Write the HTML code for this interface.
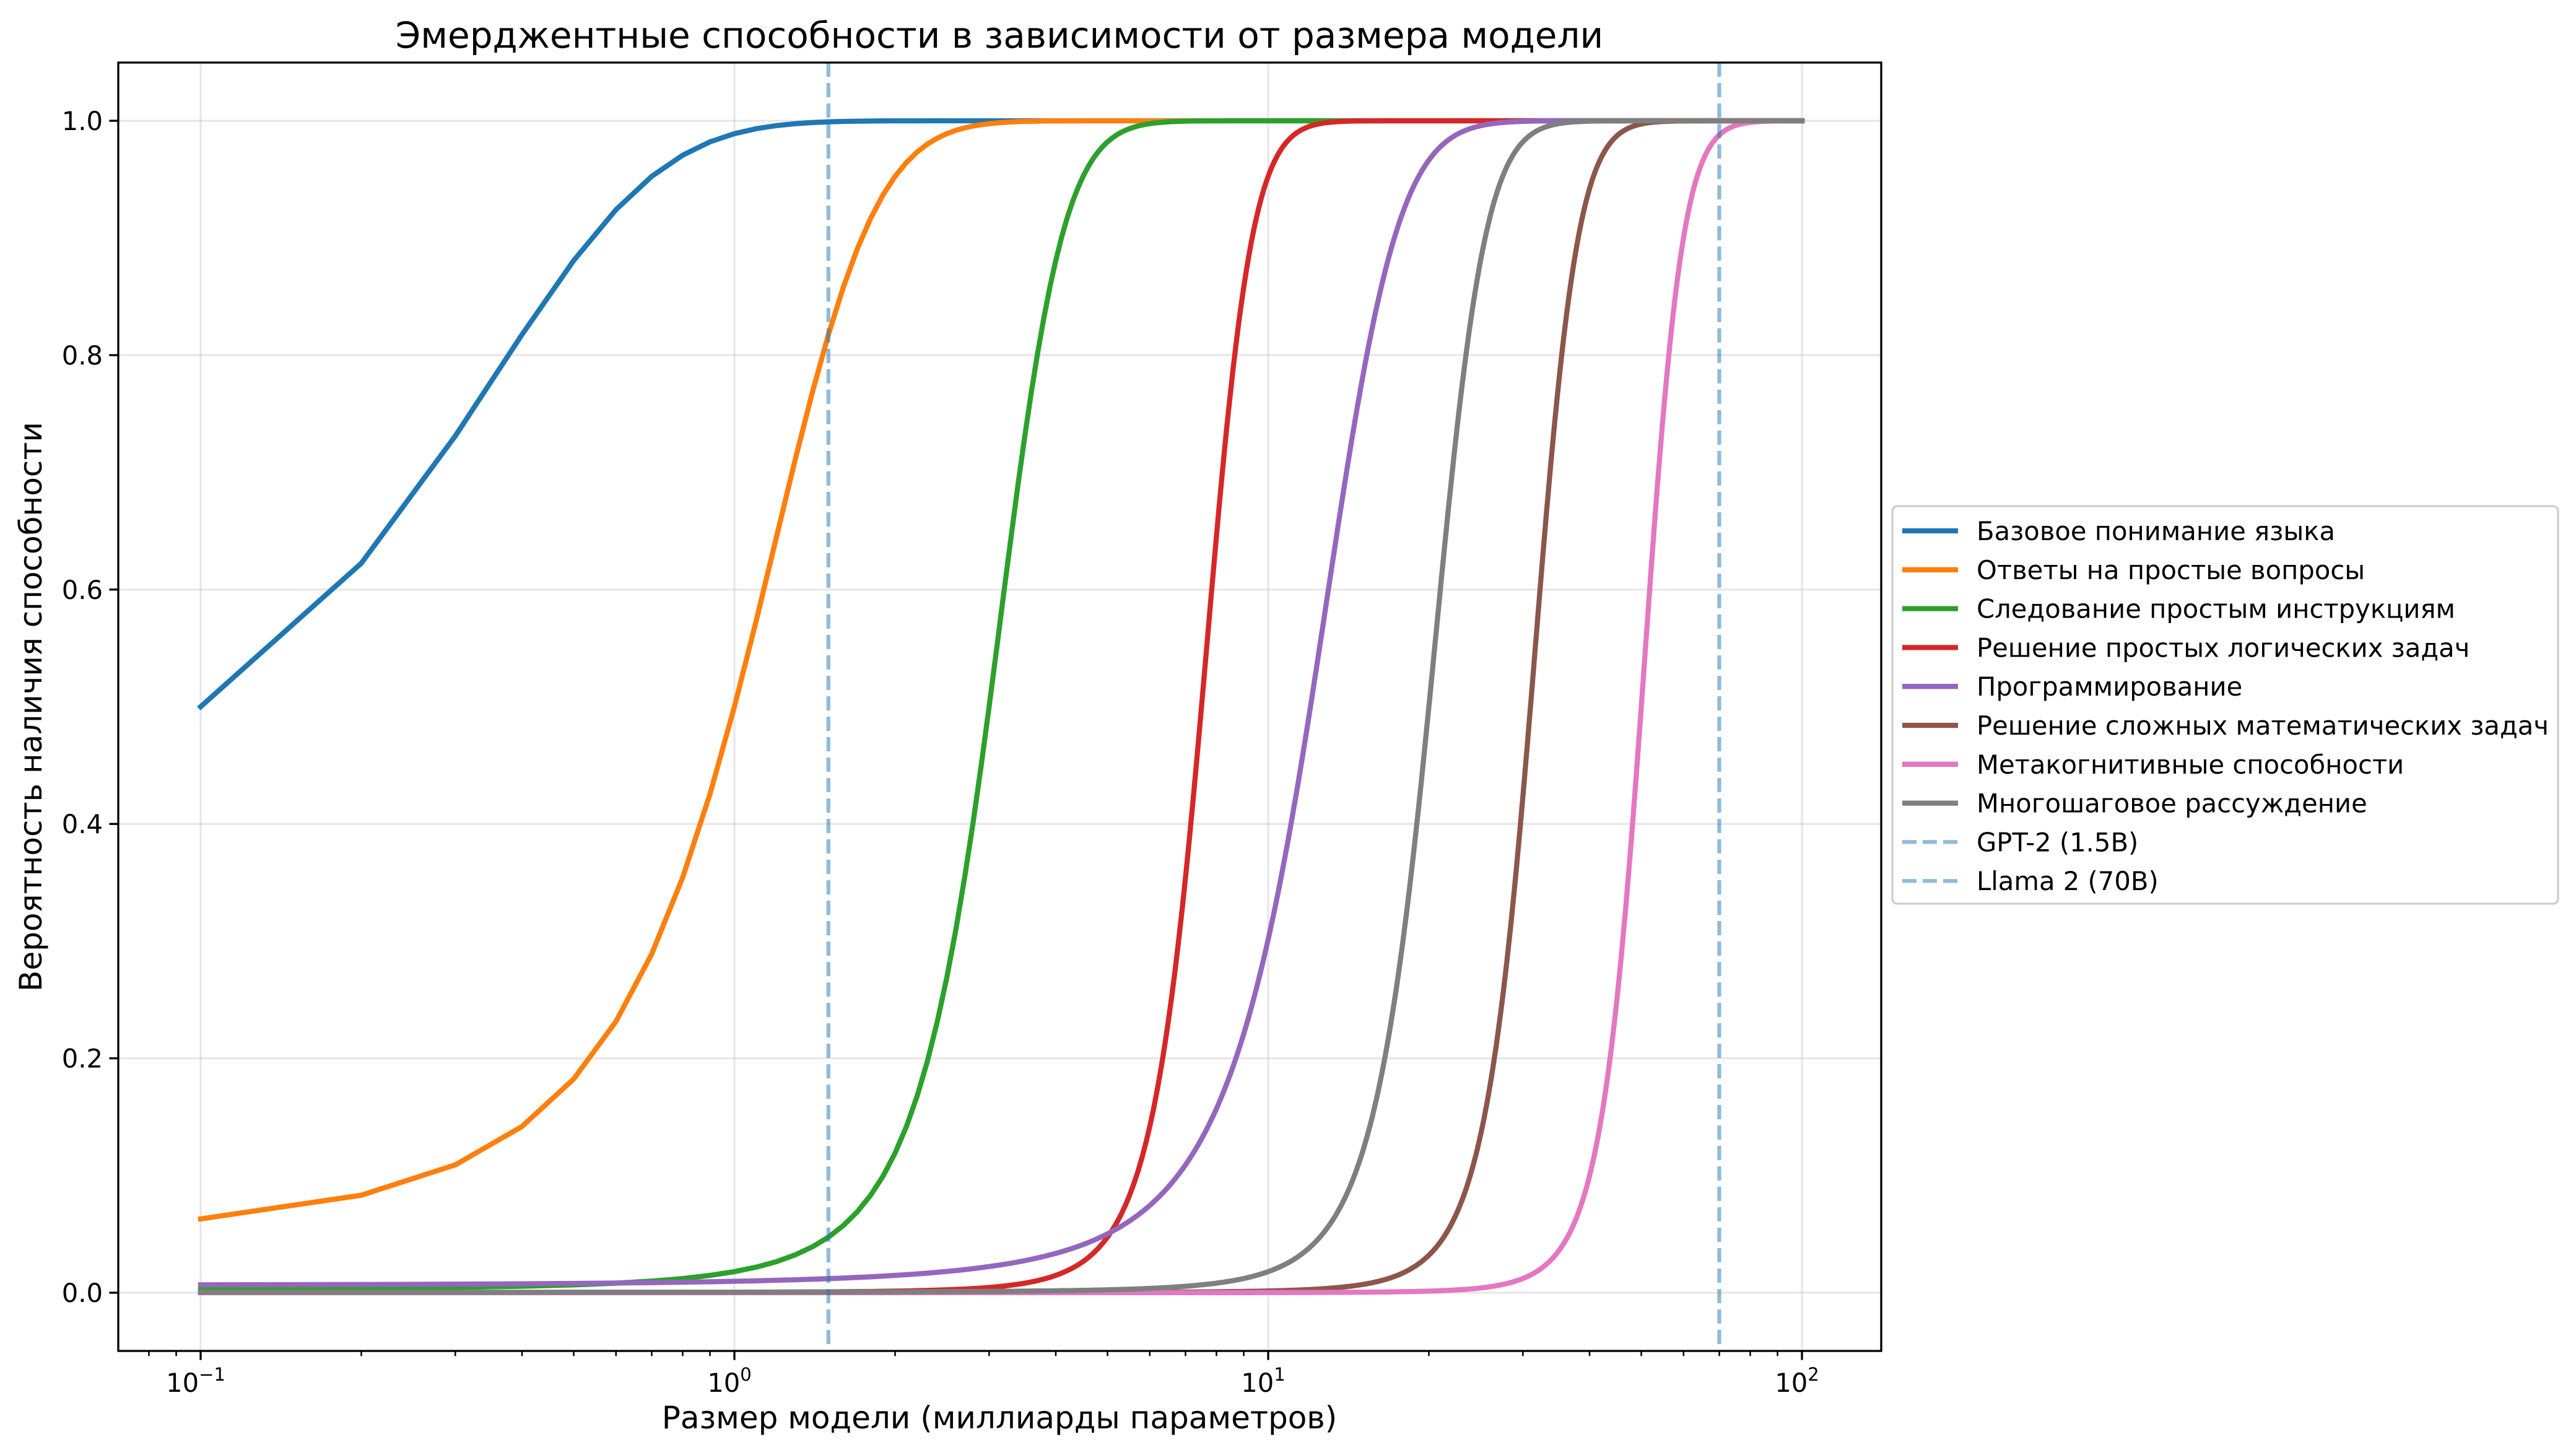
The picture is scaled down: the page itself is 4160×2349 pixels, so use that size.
<!DOCTYPE html>
<html><head><meta charset="utf-8">
<style>html,body{margin:0;padding:0;background:#fff;}svg{display:block;}</style>
</head><body>
<svg id="s" xmlns="http://www.w3.org/2000/svg" width="4160" height="2349" viewBox="0 0 4160 2349" font-family="'DejaVu Sans','Liberation Sans',sans-serif">
<rect width="4160" height="2349" fill="#fff"/>
<g id="grid" stroke="#b0b0b0" stroke-opacity="0.3" stroke-width="3.3"></g>
<g id="curves" fill="none" stroke-width="8.3" stroke-linejoin="round" stroke-linecap="square"></g>
<g id="vl" stroke="#1f77b4" stroke-opacity="0.5" stroke-width="6.25" stroke-dasharray="23,10"></g>
<rect x="191" y="101" width="2847" height="2080" fill="none" stroke="#000" stroke-width="3.3"/>
<g id="ticks" stroke="#000"></g>
<g id="labels" font-size="41.7" fill="#000"></g>
<text x="1614" y="77" font-size="58" text-anchor="middle">Эмерджентные способности в зависимости от размера модели</text>
<text x="1614" y="2306" font-size="50" text-anchor="middle">Размер модели (миллиарды параметров)</text>
<text transform="translate(67,1141) rotate(-90)" font-size="50" text-anchor="middle">Вероятность наличия способности</text>
<rect x="3056" y="817" width="1075" height="642" rx="8" fill="#fff" fill-opacity="0.8" stroke="#cccccc" stroke-width="3.3"/>
<g id="legend" font-size="41.7"></g>
</svg>
<script>
const X0=324,DEC=862,Y0=2087,YU=1892;
const xp=v=>X0+DEC*(Math.log10(v)+1), yp=v=>Y0-YU*v;
const ns="http://www.w3.org/2000/svg";
function el(p,t,a,txt){const e=document.createElementNS(ns,t);for(const k in a)e.setAttribute(k,a[k]);if(txt!==undefined)e.textContent=txt;p.appendChild(e);return e;}
const grid=document.getElementById('grid'),ticks=document.getElementById('ticks'),labels=document.getElementById('labels');
const L=191,R=3038,T=101,B=2181;
for(let i=0;i<=5;i++){const v=i*0.2,y=yp(v);
 el(grid,'line',{x1:L,x2:R,y1:y,y2:y});
 el(ticks,'line',{x1:L-14.6,x2:L,y1:y,y2:y,'stroke-width':3.3});
 el(labels,'text',{x:L-25,y:y+15,'text-anchor':'end'},v.toFixed(1));}
[-1,0,1,2].forEach(e=>{const x=xp(Math.pow(10,e));
 el(grid,'line',{x1:x,x2:x,y1:T,y2:B});
 el(ticks,'line',{x1:x,x2:x,y1:B,y2:B+14.6,'stroke-width':3.3});
 const t=el(labels,'text',{x:x-8,y:B+66,'text-anchor':'middle'});
 el(t,'tspan',{},'10');el(t,'tspan',{dy:-18,'font-size':29},e<0?'−1':String(e));});
for(let d=-2;d<=2;d++)for(let m=2;m<=9;m++){const v=m*Math.pow(10,d),x=xp(v);
 if(x>L&&x<R)el(ticks,'line',{x1:x,x2:x,y1:B,y2:B+8.3,'stroke-width':2.5});}
const S=[
 ['#1f77b4',0.1,5,'Базовое понимание языка'],
 ['#ff7f0e',1,3,'Ответы на простые вопросы'],
 ['#2ca02c',3,2,'Следование простым инструкциям'],
 ['#d62728',7.5,1.2,'Решение простых логических задач'],
 ['#9467bd',12,0.42,'Программирование'],
 ['#8c564b',31,0.31,'Решение сложных математических задач'],
 ['#e377c2',50,0.22,'Метакогнитивные способности'],
 ['#7f7f7f',20,0.4,'Многошаговое рассуждение']];
const cv=document.getElementById('curves');
S.forEach(s=>{let pts=[];for(let i=0;i<1000;i++){const x=0.1+i*(99.9/999);const y=1/(1+Math.exp(-s[2]*(x-s[1])));pts.push(xp(x).toFixed(1)+','+yp(y).toFixed(1));}
 el(cv,'polyline',{points:pts.join(' '),stroke:s[0]});});
const vl=document.getElementById('vl');
[1.5,70].forEach(v=>{const x=xp(v);el(vl,'line',{x1:x,x2:x,y1:T,y2:B});});
const lg=document.getElementById('legend');
S.forEach((s,i)=>{const y=857+i*62.8;el(lg,'line',{x1:3072,x2:3162,y1:y,y2:y,stroke:s[0],'stroke-width':8.3});
 el(lg,'text',{x:3192,y:y+15},s[3]);});
['GPT-2 (1.5B)','Llama 2 (70B)'].forEach((t,j)=>{const y=857+(8+j)*62.8;
 el(lg,'line',{x1:3072,x2:3162,y1:y,y2:y,stroke:'#1f77b4','stroke-opacity':0.5,'stroke-width':6.25,'stroke-dasharray':'23,10'});
 el(lg,'text',{x:3192,y:y+15},t);});
</script>
</body></html>
